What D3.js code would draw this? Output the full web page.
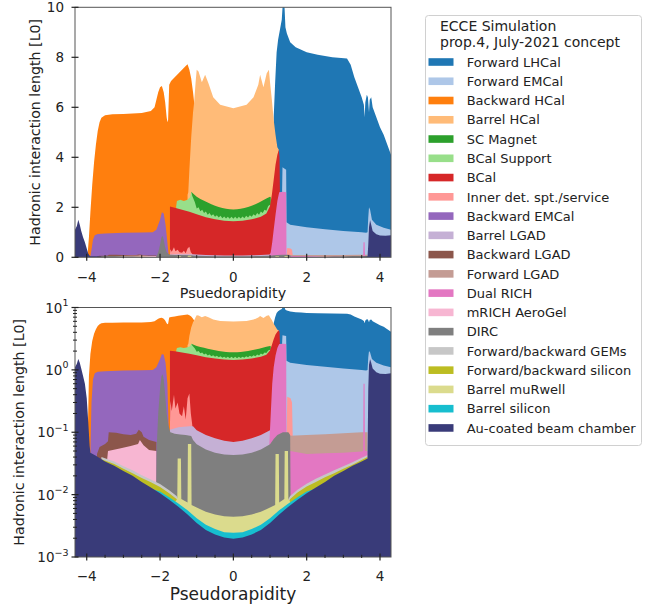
<!DOCTYPE html>
<html><head><meta charset="utf-8">
<script src="https://cdn.jsdelivr.net/npm/d3@7"></script>
<style>
body{margin:0;background:#fff;}
svg{display:block;}
text{font-family:"DejaVu Sans",sans-serif;fill:#222;}
</style>
</head><body>
<svg id="chart" width="662" height="604"></svg>
<script>
// ---------------- DATA (stacked cumulative top of each layer, [eta, value]) ----------------
const etaDomain = [-4.32, 4.30];
const majorXTicks = [-4, -2, 0, 2, 4];
const minorXTicks = [-3.5, -3, -2.5, -1.5, -1, -0.5, 0.5, 1, 1.5, 2.5, 3, 3.5];
const linYTicks = [0, 2, 4, 6, 8, 10];
const logYExponents = [-3, -2, -1, 0, 1];
const legendTitle = ["ECCE Simulation", "prop.4, July-2021 concept"];

const beamChamber = [[-4.32,1.1],[-4.27,1.25],[-4.23,1.5],[-4.19,1.3],[-4.15,1.05],[-4.1,0.8],[-4.05,0.6],[-4.0,0.35],[-3.96,0.15],[-3.92,0.06],[-3.9,0.047],[-3.75,0.042],[-3.5,0.034],[-3.25,0.029],[-3.0,0.024],[-2.75,0.02],[-2.5,0.016],[-2.25,0.013],[-2.0,0.0105],[-1.75,0.0083],[-1.5,0.0064],[-1.25,0.0048],[-1.0,0.0035],[-0.75,0.0027],[-0.5,0.0023],[-0.25,0.00205],[0,0.00197],[0.25,0.00205],[0.5,0.0023],[0.75,0.0027],[1.0,0.0035],[1.25,0.0048],[1.5,0.0064],[1.75,0.0083],[2.0,0.0105],[2.25,0.013],[2.5,0.016],[2.75,0.02],[3.0,0.024],[3.25,0.029],[3.5,0.034],[3.66,0.038],[3.68,0.5],[3.7,1.2],[3.73,1.48],[3.76,1.3],[3.8,1.05],[3.9,0.92],[4.0,0.87],[4.15,0.86],[4.3,0.88]];
const barrelSilicon = [[-2.4,0.0132],[-2.0,0.0112],[-1.75,0.0091],[-1.5,0.0072],[-1.25,0.0056],[-1.0,0.0042],[-0.75,0.0033],[-0.5,0.0028],[-0.25,0.0025],[0,0.00245],[0.25,0.0025],[0.5,0.0028],[0.75,0.0033],[1.0,0.0042],[1.25,0.0056],[1.5,0.0072],[1.75,0.0091],[2.0,0.0112],[2.4,0.0132]];
const barrelMuRwell = [[-1.6,0.0075],[-1.53,0.0085],[-1.52,0.038],[-1.43,0.038],[-1.42,0.0085],[-1.25,0.0075],[-1.24,0.065],[-1.15,0.065],[-1.14,0.0068],[-1.0,0.0062],[-0.75,0.0053],[-0.5,0.0048],[-0.25,0.0045],[0,0.0044],[0.25,0.0045],[0.5,0.0048],[0.75,0.0053],[1.0,0.0062],[1.14,0.0068],[1.15,0.045],[1.24,0.045],[1.25,0.0075],[1.39,0.0085],[1.4,0.05],[1.49,0.05],[1.5,0.0085],[1.56,0.0075]];
const fbSilicon = [[-3.6,0.037],[-3.25,0.031],[-3.0,0.026],[-2.75,0.022],[-2.5,0.0185],[-2.25,0.0158],[-2.0,0.0132],[-1.75,0.0105],[-1.55,0.0085],[-1.5,0.0075],[-1.49,null],[1.49,null],[1.5,0.0075],[1.55,0.0085],[1.75,0.0108],[2.0,0.0135],[2.25,0.016],[2.5,0.019],[2.75,0.022],[3.0,0.026],[3.25,0.03],[3.5,0.036],[3.66,0.04]];
const fbGEMs = [[-3.6,0.04],[-3.25,0.034],[-3.0,0.0285],[-2.75,0.0245],[-2.5,0.0205],[-2.25,0.0175],[-2.0,0.0148],[-1.75,0.0118],[-1.55,0.0095],[-1.5,0.0085],[-1.49,null],[1.49,null],[1.5,0.0085],[1.55,0.0095],[1.75,0.012],[2.0,0.015],[2.25,0.018],[2.5,0.021],[2.75,0.0245],[3.0,0.0285],[3.25,0.033],[3.5,0.039],[3.66,0.043]];
const dirc = [[-2.1,0.0175],[-2.09,0.06],[-2.05,0.2],[-2.0,0.5],[-1.96,0.8],[-1.93,0.85],[-1.9,0.7],[-1.86,0.4],[-1.82,0.2],[-1.77,0.13],[-1.72,0.1],[-1.6,0.095],[-1.45,0.092],[-1.3,0.09],[-1.15,0.087],[-1.1,0.075],[-1.0,0.064],[-0.75,0.053],[-0.5,0.047],[-0.25,0.044],[0,0.043],[0.25,0.044],[0.5,0.047],[0.75,0.053],[1.0,0.064],[1.1,0.078],[1.2,0.09],[1.35,0.1],[1.5,0.1],[1.55,0.09],[1.56,0.0095]];
const mrichAerogel = [[-3.45,0.033],[-3.42,0.05],[-3.1,0.055],[-2.8,0.06],[-2.6,0.065],[-2.55,0.075],[-2.45,0.062],[-2.3,0.052],[-2.1,0.05]];
const dualRICH = [[0.98,0.064],[1.02,0.2],[1.06,0.6],[1.1,1.1],[1.15,1.7],[1.2,2.25],[1.25,2.6],[1.35,2.62],[1.44,2.6],[1.45,0.07],[1.55,0.05],[2.0,0.045],[2.5,0.046],[3.0,0.047],[3.5,0.049],[3.54,0.05],[3.55,0.6],[3.58,0.6],[3.59,0.05],[3.66,0.05]];
const forwardLGAD = [[1.45,0.085],[1.55,0.088],[2.0,0.09],[2.5,0.093],[3.0,0.096],[3.5,0.1],[3.66,0.1]];
const backwardLGAD = [[-3.72,0.045],[-3.65,0.058],[-3.5,0.065],[-3.42,0.072],[-3.4,0.1],[-3.2,0.098],[-3.0,0.093],[-2.8,0.09],[-2.65,0.095],[-2.58,0.11],[-2.5,0.1],[-2.45,0.085],[-2.3,0.075],[-2.1,0.07]];
const barrelLGAD = [[-1.73,0.11],[-1.5,0.12],[-1.2,0.125],[-1.1,0.125],[-1.0,0.108],[-0.75,0.09],[-0.5,0.08],[-0.25,0.073],[0,0.07],[0.25,0.073],[0.5,0.08],[0.75,0.09],[1.0,0.108],[1.02,0.11]];
const backwardEMCal = [[-3.9,0.05],[-3.87,0.3],[-3.83,0.7],[-3.78,0.88],[-3.7,0.93],[-3.5,0.95],[-3.0,0.98],[-2.5,0.99],[-2.2,1.0],[-2.1,1.1],[-2.0,1.5],[-1.95,1.8],[-1.9,1.75],[-1.85,1.3],[-1.8,0.6],[-1.77,0.15]];
const innerSupport = [[-1.73,0.12],[-1.72,0.32],[-1.68,0.22],[-1.62,0.4],[-1.58,0.24],[-1.52,0.3],[-1.47,0.2],[-1.4,0.18],[-1.35,0.26],[-1.3,0.16],[-1.25,0.35],[-1.2,0.42],[-1.16,0.2],[-1.12,0.13],[-1.1,null],[1.44,null],[1.45,0.08],[1.47,0.37],[1.56,0.35],[1.6,0.3],[1.62,0.08]];
const bcal = [[-1.73,2.03],[-1.6,1.98],[-1.4,1.9],[-1.2,1.82],[-1.0,1.72],[-0.75,1.6],[-0.5,1.52],[-0.25,1.46],[0,1.44],[0.25,1.46],[0.5,1.52],[0.75,1.62],[0.9,1.75],[1.0,2.05],[1.05,2.5],[1.1,3.1],[1.15,3.7],[1.2,4.1],[1.24,4.3],[1.26,4.0],[1.27,2.6]];
const bcalSupport = [[-1.56,2.03],[-1.54,2.25],[-1.45,2.3],[-1.35,2.25],[-1.25,2.3],[-1.18,2.4],[-1.15,2.62],[-1.12,2.45],[-1.05,2.2],[-1.0,1.95],[-0.95,2.0],[-0.9,1.84],[-0.85,1.9],[-0.8,1.77],[-0.75,1.83],[-0.7,1.7],[-0.65,1.77],[-0.6,1.66],[-0.55,1.72],[-0.5,1.62],[-0.45,1.68],[-0.4,1.59],[-0.35,1.66],[-0.3,1.56],[-0.25,1.63],[-0.2,1.55],[-0.15,1.62],[-0.1,1.54],[-0.05,1.62],[0,1.54],[0.05,1.62],[0.1,1.54],[0.15,1.62],[0.2,1.55],[0.25,1.63],[0.3,1.56],[0.35,1.66],[0.4,1.59],[0.45,1.68],[0.5,1.62],[0.55,1.72],[0.6,1.66],[0.65,1.77],[0.7,1.7],[0.75,1.83],[0.8,1.77],[0.85,1.9],[0.9,1.86],[0.95,2.05],[1.0,2.1],[1.02,2.05]];
const scMagnet = [[-1.15,2.62],[-1.1,2.55],[-1.0,2.42],[-0.9,2.33],[-0.8,2.26],[-0.7,2.19],[-0.6,2.12],[-0.5,2.06],[-0.4,2.01],[-0.3,1.97],[-0.2,1.94],[-0.1,1.92],[0,1.91],[0.1,1.92],[0.2,1.94],[0.3,1.97],[0.4,2.01],[0.5,2.06],[0.6,2.12],[0.7,2.19],[0.8,2.27],[0.9,2.35],[1.0,2.42],[1.02,2.4]];
const barrelHCal = [[-1.25,2.5],[-1.23,2.6],[-1.2,3.5],[-1.15,4.8],[-1.1,5.8],[-1.07,6.2],[-1.03,7.0],[-1.0,7.5],[-0.95,7.43],[-0.86,7.0],[-0.77,7.3],[-0.68,6.96],[-0.55,6.4],[-0.36,6.1],[0,5.96],[0.36,6.1],[0.55,6.4],[0.68,6.9],[0.73,7.3],[0.82,6.8],[0.91,7.36],[0.97,7.5],[1.0,7.0],[1.05,6.3],[1.1,5.5],[1.15,4.9],[1.2,4.4],[1.24,4.3]];
const backwardHCal = [[-3.98,0.05],[-3.94,0.8],[-3.9,1.8],[-3.85,2.9],[-3.8,3.8],[-3.75,4.5],[-3.7,5.05],[-3.65,5.4],[-3.6,5.58],[-3.5,5.68],[-3.3,5.72],[-3.0,5.73],[-2.5,5.77],[-2.25,5.85],[-2.15,6.0],[-2.1,6.3],[-2.05,6.6],[-2.0,6.8],[-1.95,6.85],[-1.9,6.6],[-1.86,6.2],[-1.82,5.6],[-1.8,5.4],[-1.78,5.5],[-1.75,6.9],[-1.7,7.05],[-1.6,7.2],[-1.5,7.35],[-1.4,7.5],[-1.3,7.65],[-1.25,7.72],[-1.2,7.5],[-1.15,7.15],[-1.1,6.6],[-1.07,6.2],[-1.05,6.1],[-1.04,6.0]];
const forwardEMCal = [[1.33,2.7],[1.34,3.6],[1.44,3.5],[1.45,1.4],[1.55,1.3],[2.0,1.2],[2.5,1.12],[3.0,1.05],[3.5,1.0],[3.62,0.98],[3.66,1.0],[3.68,1.6],[3.7,2.0],[3.73,1.9],[3.78,1.5],[3.9,1.3],[4.1,1.18],[4.3,1.1]];
const forwardLHCal = [[1.1,5.6],[1.14,7.0],[1.18,8.2],[1.22,8.7],[1.27,9.1],[1.32,9.5],[1.35,10.2],[1.39,10.2],[1.42,9.2],[1.46,8.95],[1.55,8.6],[1.7,8.4],[1.85,8.3],[2.0,8.2],[2.3,8.1],[2.7,8.0],[3.1,7.95],[3.2,7.7],[3.3,7.2],[3.4,6.8],[3.5,6.4],[3.56,6.1],[3.58,5.6],[3.6,6.2],[3.64,6.5],[3.67,6.4],[3.7,5.8],[3.72,6.3],[3.76,6.4],[3.8,6.0],[3.9,5.6],[4.0,5.2],[4.1,4.9],[4.2,4.5],[4.3,4.1]];

// legend order (top of stack first)
const legendLabels = ["Forward LHCal","Forward EMCal","Backward HCal","Barrel HCal","SC Magnet","BCal Support","BCal","Inner det. spt./service","Backward EMCal","Barrel LGAD","Backward LGAD","Forward LGAD","Dual RICH","mRICH AeroGel","DIRC","Forward/backward GEMs","Forward/backward silicon","Barrel muRwell","Barrel silicon","Au-coated beam chamber"];
const legendColors = ["#1f77b4","#aec7e8","#ff7f0e","#ffbb78","#2ca02c","#98df8a","#d62728","#ff9896","#9467bd","#c5b0d5","#8c564b","#c49c94","#e377c2","#f7b6d2","#7f7f7f","#c7c7c7","#bcbd22","#dbdb8d","#17becf","#393b79"];
const layerSeries = [forwardLHCal, forwardEMCal, backwardHCal, barrelHCal, scMagnet, bcalSupport, bcal, innerSupport, backwardEMCal, barrelLGAD, backwardLGAD, forwardLGAD, dualRICH, mrichAerogel, dirc, fbGEMs, fbSilicon, barrelMuRwell, barrelSilicon, beamChamber];

// ---------------- DRAWING ----------------
const svg = d3.select("#chart");
const L = 75, R = 391;
const x = d3.scaleLinear().domain(etaDomain).range([L, R]);
const yLin = d3.scaleLinear().domain([0, 10]).range([257.3, 7.3]);
const yLog = d3.scaleLog().domain([1e-3, 10]).range([557, 307.5]);
const panels = [
  {id: "lin", y: yLin, base: 0, clampMin: 0, top: 7.3, bottom: 257.3, labelDy: 24.5},
  {id: "log", y: yLog, base: 1e-3, clampMin: 1e-3, top: 307.5, bottom: 557, labelDy: 23.5}
];
const defs = svg.append("defs");

panels.forEach(p => {
  defs.append("clipPath").attr("id", "clip-" + p.id).append("rect")
    .attr("x", L).attr("y", p.top).attr("width", R - L).attr("height", p.bottom - p.top);
  const g = svg.append("g").attr("clip-path", `url(#clip-${p.id})`);
  const area = d3.area()
    .defined(d => d[1] != null)
    .x(d => x(d[0]))
    .y0(p.y(p.base))
    .y1(d => p.y(Math.max(d[1], p.clampMin)));
  // paint top-of-stack first, lower layers over it
  layerSeries.forEach((s, i) => {
    g.append("path").attr("d", area(s)).attr("fill", legendColors[i]).attr("stroke", "none");
  });
  // frame
  svg.append("rect").attr("x", L).attr("y", p.top).attr("width", R - L).attr("height", p.bottom - p.top)
    .attr("fill", "none").attr("stroke", "#555").attr("stroke-width", 1);
  // x ticks
  const xt = svg.append("g");
  xt.selectAll("line.maj").data(majorXTicks).join("line")
    .attr("x1", d => x(d)).attr("x2", d => x(d)).attr("y1", p.bottom - 3.5).attr("y2", p.bottom + 3.5)
    .attr("stroke", "#222").attr("stroke-width", 1.2);
  xt.selectAll("line.min").data(minorXTicks).join("line")
    .attr("x1", d => x(d)).attr("x2", d => x(d)).attr("y1", p.bottom - 2.2).attr("y2", p.bottom + 1)
    .attr("stroke", "#222").attr("stroke-width", 1);
  xt.selectAll("text").data(majorXTicks).join("text")
    .attr("x", d => x(d)).attr("y", p.bottom + p.labelDy).attr("text-anchor", "middle")
    .attr("font-size", "13.5px").text(d => d < 0 ? "\u2212" + Math.abs(d) : String(d));
});

// linear y ticks
const ly = svg.append("g");
ly.selectAll("line").data(linYTicks).join("line")
  .attr("x1", L - 3.5).attr("x2", L + 3.5).attr("y1", d => yLin(d)).attr("y2", d => yLin(d))
  .attr("stroke", "#222").attr("stroke-width", 1.2);
ly.selectAll("text").data(linYTicks).join("text")
  .attr("x", 64).attr("y", d => yLin(d) + 4.9).attr("text-anchor", "end")
  .attr("font-size", "13.5px").text(d => d);

// log y ticks
const lg = svg.append("g");
lg.selectAll("line.maj").data(logYExponents).join("line")
  .attr("x1", L - 3.5).attr("x2", L + 3.5).attr("y1", d => yLog(Math.pow(10, d))).attr("y2", d => yLog(Math.pow(10, d)))
  .attr("stroke", "#222").attr("stroke-width", 1.2);
const minorLog = [];
logYExponents.slice(0, -1).forEach(e => { for (let k = 2; k <= 9; k++) minorLog.push(k * Math.pow(10, e)); });
lg.selectAll("line.min").data(minorLog).join("line")
  .attr("x1", L - 2).attr("x2", L + 2).attr("y1", d => yLog(d)).attr("y2", d => yLog(d))
  .attr("stroke", "#222").attr("stroke-width", 1);
const lt = lg.selectAll("text").data(logYExponents).join("text")
  .attr("x", 68.5).attr("y", d => yLog(Math.pow(10, d)) + 5).attr("text-anchor", "end")
  .attr("font-size", "13.5px");
lt.append("tspan").text("10");
lt.append("tspan").attr("dy", -6.5).attr("font-size", "9.5px").text(d => d < 0 ? "\u2212" + Math.abs(d) : String(d));

// axis labels
svg.append("text").attr("x", 233).attr("y", 297.5).attr("text-anchor", "middle").attr("font-size", "14.3px").text("Psuedorapidity");
svg.append("text").attr("x", 233).attr("y", 600).attr("text-anchor", "middle").attr("font-size", "17px").text("Pseudorapidity");
svg.append("text").attr("transform", "translate(40.4,132.3) rotate(-90)").attr("text-anchor", "middle").attr("font-size", "14.2px").text("Hadronic interaction length [L0]");
svg.append("text").attr("transform", "translate(23.7,432.3) rotate(-90)").attr("text-anchor", "middle").attr("font-size", "14.2px").text("Hadronic interaction length [L0]");

// legend
const lgd = svg.append("g");
lgd.append("rect").attr("x", 425.5).attr("y", 15.5).attr("width", 216).attr("height", 430).attr("rx", 3)
  .attr("fill", "#fff").attr("stroke", "#d0d0d0");
lgd.selectAll("text.title").data(legendTitle).join("text").attr("class", "title")
  .attr("x", 440).attr("y", (d, i) => 30.5 + i * 16.5).attr("font-size", "14px").text(d => d);
const items = lgd.selectAll("g.item").data(legendLabels).join("g").attr("class", "item")
  .attr("transform", (d, i) => `translate(0,${62 + i * 19.26})`);
items.append("rect").attr("x", 428.5).attr("y", -3.8).attr("width", 25).attr("height", 7.6)
  .attr("fill", (d, i) => legendColors[i]);
items.append("text").attr("x", 466.7).attr("y", 4.7).attr("font-size", "13px").text(d => d);
</script>
</body></html>
